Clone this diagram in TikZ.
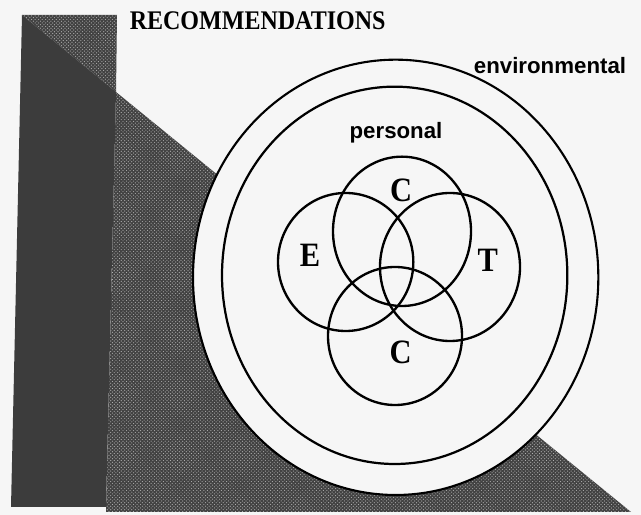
\documentclass[tikz,border=0pt]{standalone}
\usepackage{fontspec}
\setmainfont{Liberation Serif}
\newfontfamily\fonteRotulo{Liberation Sans}
\usepackage{tikz}
\usetikzlibrary{patterns}
\definecolor{corFundo}{RGB}{246, 246, 246}
\definecolor{corColuna}{RGB}{ 60,  60,  60}
\definecolor{corTrama}{RGB}{ 66,  66,  66}
\definecolor{corPontos}{RGB}{175, 175, 175}

\newcommand{\esticar}[1]{\scalebox{1}[1.12]{#1}}

\tikzset{
  titulo/.style={font=\fontsize{20.5}{24}\selectfont\bfseries, anchor=base},
  rotulo/.style={font=\fonteRotulo\fontsize{19}{23}\selectfont\bfseries, anchor=base},
  letra/.style={font=\fontsize{26}{30}\selectfont\bfseries},
  trama/.style={pattern=crosshatch dots, pattern color=corPontos}
}

\begin{document}
\begin{tikzpicture}

  %% ================================================================
  %%  FUNDO
  %% ================================================================
  \fill[corFundo] (0,0) rectangle (19.23, 15.45);

  %% ================================================================
  %%  COLUNA E TRIANGULO TRAMADO
  %% ================================================================
  % Triangulo grande (abaixo da diagonal)
  \fill[corTrama] (3.48, 12.69) -- (18.93, 0.09) -- (3.18, 0.09) -- cycle;
  \fill[trama]    (3.48, 12.69) -- (18.93, 0.09) -- (3.18, 0.09) -- cycle;

  % Topo da coluna (acima da diagonal)
  \fill[corTrama] (0.66, 15.00) -- (3.51, 15.00) -- (3.48, 12.69) -- cycle;
  \fill[trama]    (0.66, 15.00) -- (3.51, 15.00) -- (3.48, 12.69) -- cycle;

  % Coluna escura
  \fill[corColuna] (0.66, 15.00) -- (3.48, 12.69) -- (3.18, 0.24) -- (0.33, 0.24) -- cycle;

  %% ================================================================
  %%  CIRCULOS EXTERNOS
  %% ================================================================
  \fill[corFundo] (11.87, 7.13) ellipse (6.08cm and 6.53cm);
  \draw[line width=1.8pt] (11.87, 7.13) ellipse (6.08cm and 6.53cm);
  \draw[line width=1.9pt] (11.84, 7.19) ellipse (5.18cm and 5.66cm);

  %% ================================================================
  %%  QUATRO CIRCULOS INTERNOS
  %% ================================================================
  \draw[line width=2pt] (12.06, 8.51) ellipse (2.07cm and 2.24cm); % C de cima
  \draw[line width=2pt] (10.37, 7.59) ellipse (2.03cm and 2.07cm); % E
  \draw[line width=2pt] (13.50, 7.44) ellipse (2.10cm and 2.22cm); % T
  \draw[line width=2pt] (11.85, 5.37) ellipse (2.01cm and 2.07cm); % C de baixo

  %% ================================================================
  %%  TEXTOS
  %% ================================================================
  \node[titulo] (titulo)      at (7.73, 14.55)  {\esticar{RECOMMENDATIONS}};
  \node[rotulo] (rotAmbiente) at (16.50, 13.23) {environmental};
  \node[rotulo] (rotPessoal)  at (11.88, 11.28) {personal};

  \node[letra] (letraCsup) at (12.03, 9.74) {\esticar{C}};
  \node[letra] (letraE)    at ( 9.30, 7.79) {\esticar{E}};
  \node[letra] (letraT)    at (14.63, 7.63) {\esticar{T}};
  \node[letra] (letraCinf) at (12.02, 4.89) {\esticar{C}};

\end{tikzpicture}
\end{document}
